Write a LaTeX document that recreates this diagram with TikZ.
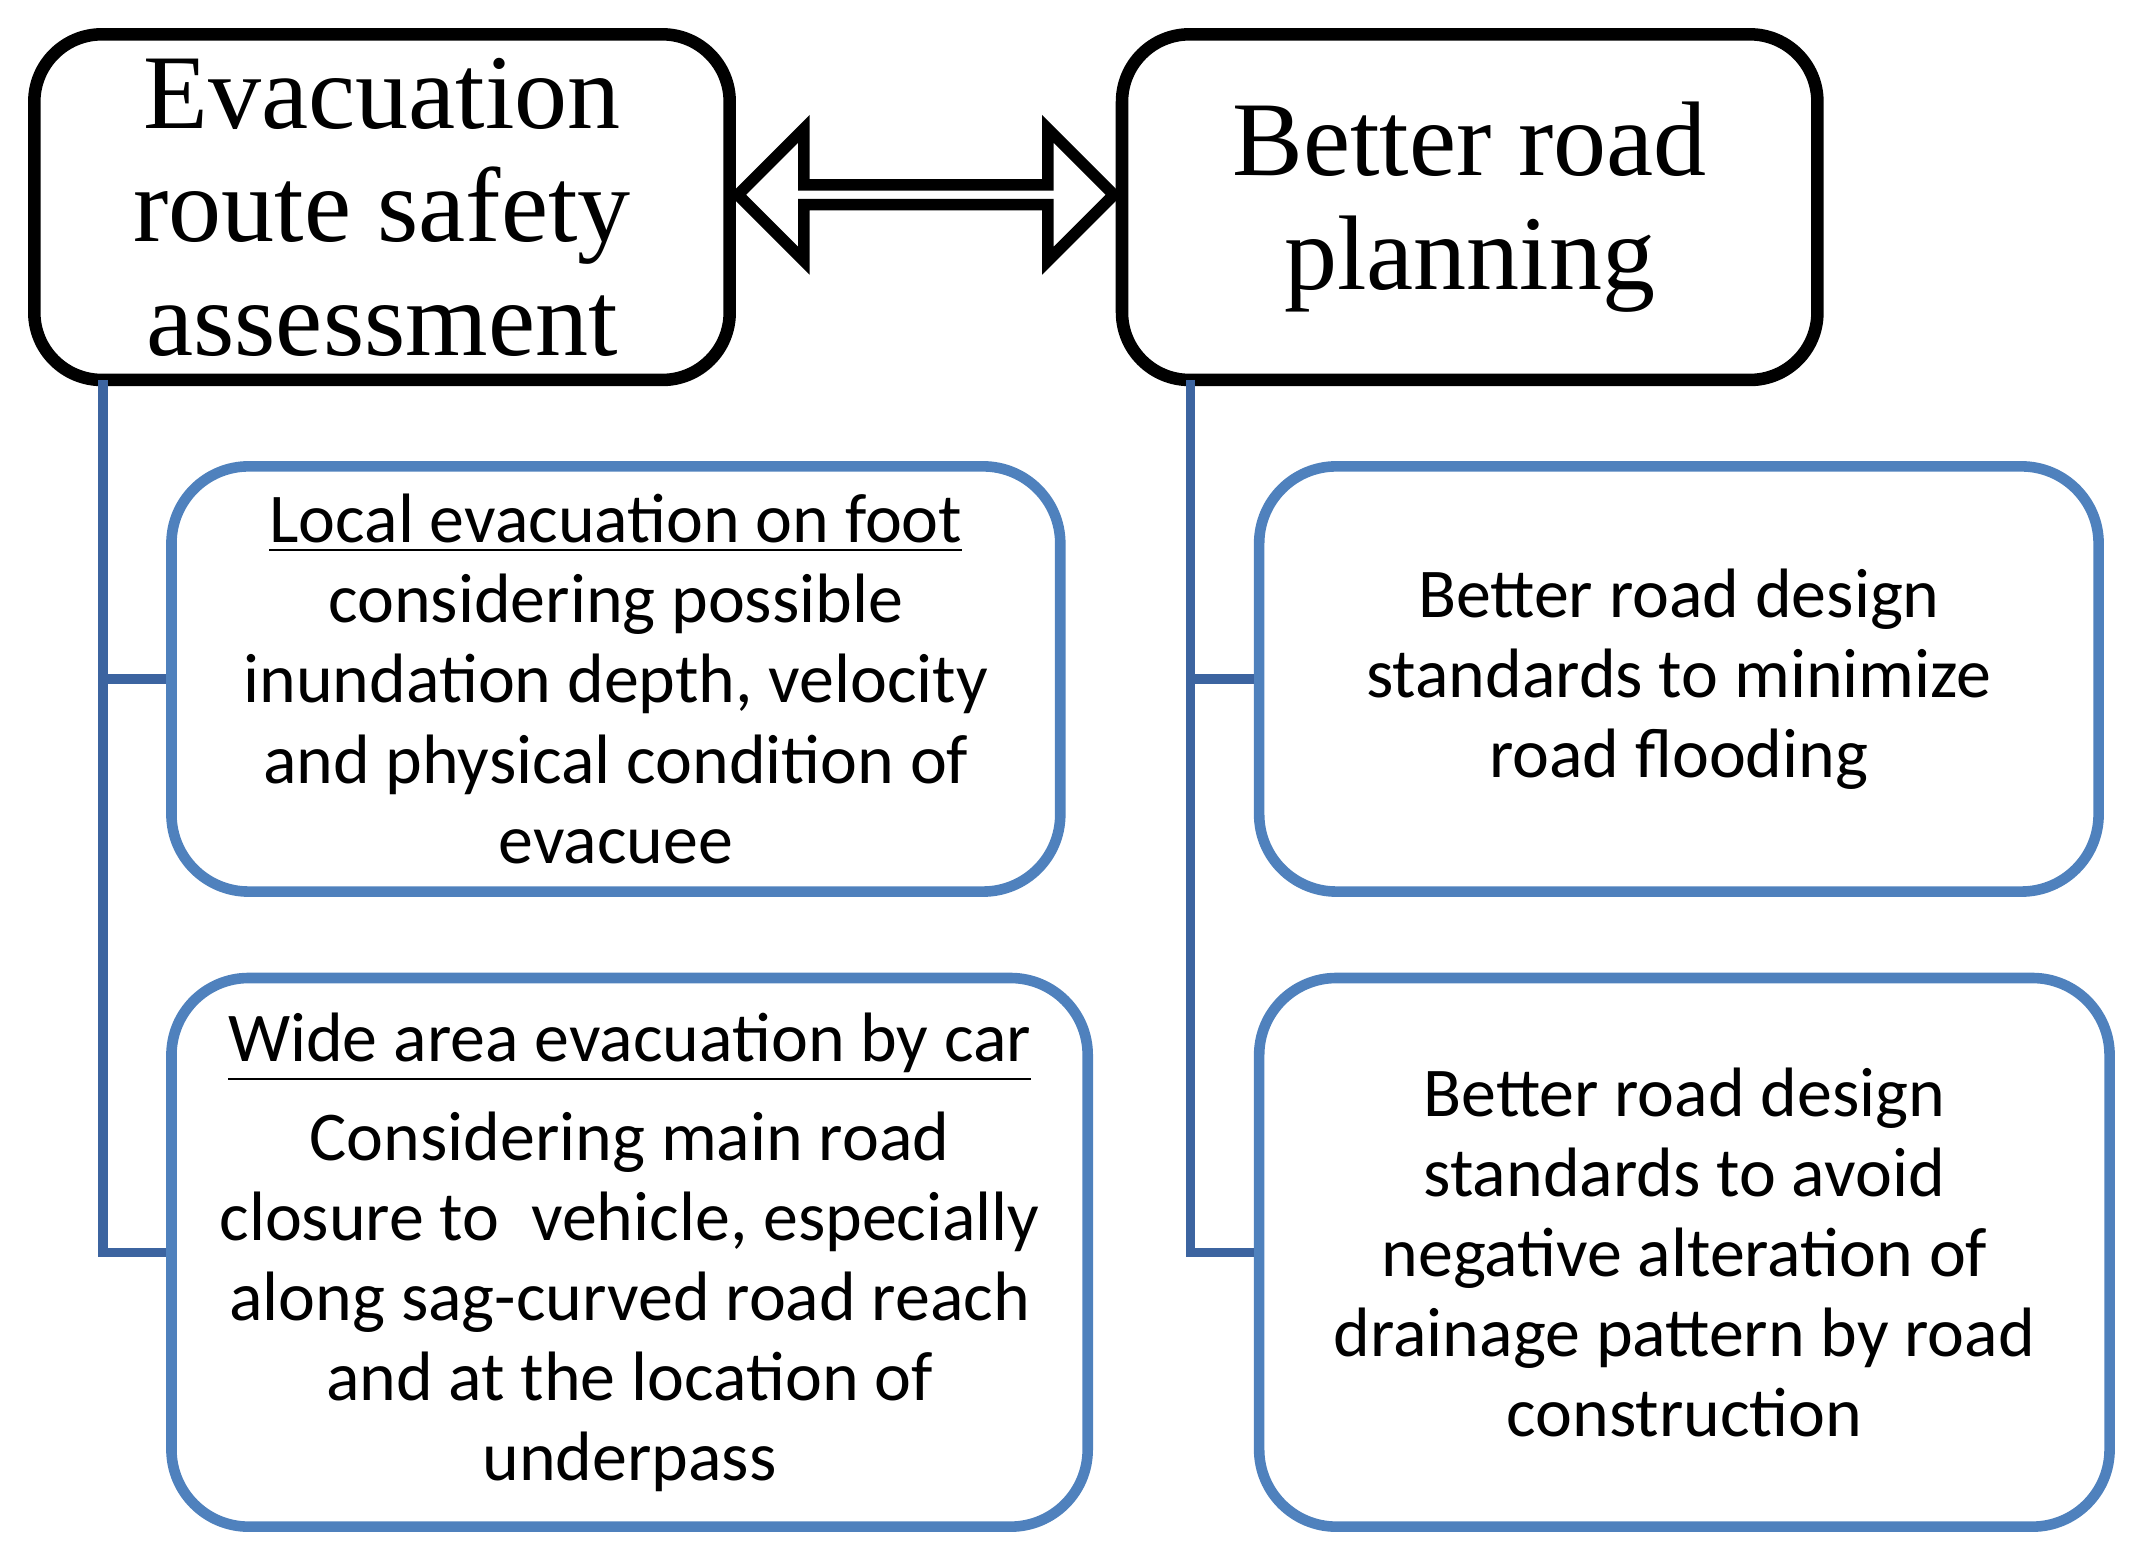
\documentclass[tikz,border=0pt]{standalone}
\usepackage{fontspec}
\setmainfont{Liberation Serif}
\newfontfamily\bodyfont{Carlito}
\usetikzlibrary{shapes.arrows}
\definecolor{lineblue}{RGB}{79,129,189}
\definecolor{stemblue}{RGB}{60,100,160}

\begin{document}
\begin{tikzpicture}[x=1cm, y=-1cm]

    % feste Bildgroesse
    \useasboundingbox (0,0) rectangle (15.66,11.42);

    \tikzset{
      headbox/.style={draw=black, line width=2.6pt, rounded corners=14pt, align=center,
        font=\fontsize{22}{23.5}\selectfont},
      itembox/.style={draw=lineblue, line width=2.2pt, rounded corners=16pt, align=center,
        font=\bodyfont\fontsize{14.5}{16.6}\selectfont},
      stem/.style={draw=stemblue, line width=2pt}
    }

    % Kopfboxen
    \node[headbox, minimum width=5.07cm, minimum height=2.52cm] (evac) at (2.785,1.51)
      {Evacuation\\route safety\\assessment};
    \node[headbox, minimum width=5.07cm, minimum height=2.52cm] (road) at (10.715,1.51)
      {Better road\\planning};

    % Doppelpfeil
    \node[double arrow, draw=black, line width=2.4pt, minimum height=2.74cm,
      minimum width=0.96cm, double arrow head extend=0.24cm, inner sep=0pt] (link) at (6.75,1.42) {};

    % linke Spalte
    \node[itembox, minimum width=6.48cm, minimum height=3.10cm] (foot) at (4.49,4.95)
      {\underline{Local evacuation on foot}\\considering possible\\inundation depth, velocity\\and physical condition of\\evacuee};
    \node[itembox, minimum width=6.68cm, minimum height=4.00cm] (car) at (4.59,9.13)
      {\underline{Wide area evacuation by car}\\[4pt]Considering main road\\closure to\ \ vehicle, especially\\along sag-curved road reach\\and at the location of\\underpass};

    % rechte Spalte
    \node[itembox, minimum width=6.12cm, minimum height=3.10cm] (flood) at (12.24,4.95)
      {Better road design\\standards to minimize\\road flooding};
    \node[itembox, minimum width=6.20cm, minimum height=4.00cm] (drain) at (12.28,9.13)
      {Better road design\\standards to avoid\\negative alteration of\\drainage pattern by road\\construction};

    % Verbindungslinien
    \coordinate (evacstem) at (0.75,2.77);
    \coordinate (roadstem) at (8.68,2.77);
    \draw[stem] (evacstem) |- (foot.west);
    \draw[stem] (evacstem) |- (car.west);
    \draw[stem] (roadstem) |- (flood.west);
    \draw[stem] (roadstem) |- (drain.west);

\end{tikzpicture}
\end{document}
